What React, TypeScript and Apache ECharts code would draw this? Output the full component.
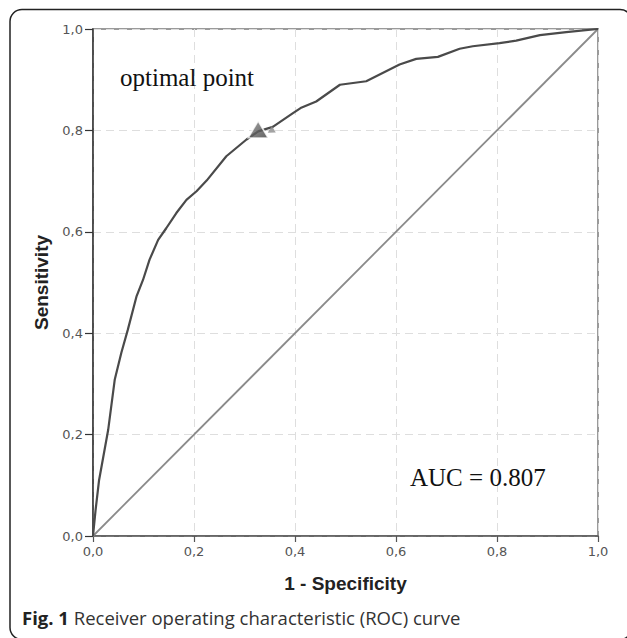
import React, { useEffect, useRef } from "react";
import * as echarts from "echarts";

const fpr = [0, 0.005, 0.012, 0.03, 0.043, 0.056, 0.069, 0.086, 0.099, 0.112, 0.129, 0.145, 0.165, 0.185, 0.205, 0.225, 0.264, 0.304, 0.327, 0.356, 0.396, 0.411, 0.442, 0.489, 0.541, 0.607, 0.64, 0.683, 0.726, 0.752, 0.805, 0.838, 0.885, 0.937, 1.0];
const tpr = [0, 0.05, 0.11, 0.209, 0.308, 0.361, 0.407, 0.472, 0.505, 0.545, 0.584, 0.607, 0.637, 0.663, 0.68, 0.701, 0.749, 0.782, 0.798, 0.807, 0.834, 0.844, 0.857, 0.89, 0.897, 0.93, 0.941, 0.945, 0.961, 0.966, 0.972, 0.977, 0.988, 0.994, 1.0];
const diagonal = [[0, 0], [1, 1]];
const optimalPoint = [0.327, 0.8];
const arrowPoint = [0.352, 0.799];
const xTitle = "1 - Specificity";
const yTitle = "Sensitivity";
const optimalLabel = "optimal point";
const aucLabel = "AUC = 0.807";
const captionBold = "Fig. 1";
const captionText = " Receiver operating characteristic (ROC) curve";

export default function App() {
  const ref = useRef<HTMLDivElement>(null);
  useEffect(() => {
    if (!ref.current) return;
    const chart = echarts.init(ref.current, null, { renderer: "svg" });
    const fmt = (v: number) => v.toFixed(1).replace(".", ",");
    const labelStyle = { formatter: fmt, color: "#555", fontSize: 13, fontFamily: "'DejaVu Sans', sans-serif" };
    const axisCommon = {
      type: "value",
      min: 0,
      max: 1,
      interval: 0.2,
      splitLine: { show: true, lineStyle: { type: [8, 5], color: "#dedede", width: 1 } },
      nameTextStyle: { fontWeight: "bold", fontSize: 19, color: "#222", fontFamily: "'Liberation Sans', Arial, sans-serif" },
    };
    chart.setOption({
      animation: false,
      backgroundColor: "#fff",
      grid: { left: 93, right: 29, top: 29, bottom: 102, show: true, borderColor: "#9a9a9a", borderWidth: 2 },
      xAxis: {
        ...axisCommon,
        name: xTitle,
        nameLocation: "middle",
        nameGap: 38,
        axisLine: { show: true, lineStyle: { color: "#555", width: 1.5 } },
        axisTick: { show: true, length: 6, lineStyle: { color: "#555", width: 1.2 } },
        axisLabel: { ...labelStyle, margin: 9 },
      },
      yAxis: {
        ...axisCommon,
        name: yTitle,
        nameLocation: "middle",
        nameGap: 42,
        axisLine: { show: true, lineStyle: { color: "#333", width: 1.5 } },
        axisTick: { show: true, length: 8, lineStyle: { color: "#333", width: 1.2 } },
        axisLabel: { ...labelStyle, margin: 10 },
      },
      series: [
        {
          type: "line",
          data: diagonal,
          symbol: "none",
          lineStyle: { color: "#8a8a8a", width: 1.8 },
          z: 2,
        },
        {
          type: "line",
          data: fpr.map((x, i) => [x, tpr[i]]),
          symbol: "none",
          lineStyle: { color: "#4a4a4a", width: 2.2 },
          z: 3,
        },
        {
          type: "scatter",
          data: [arrowPoint],
          symbol: "triangle",
          symbolSize: [8, 7],
          symbolRotate: 120,
          itemStyle: { color: "#8c8c8c" },
          z: 4,
        },
        {
          type: "scatter",
          data: [optimalPoint],
          symbol: "triangle",
          symbolSize: [20, 17],
          symbolOffset: [0, -1],
          itemStyle: {
            color: new echarts.graphic.LinearGradient(0, 0, 1, 1, [
              { offset: 0, color: "#8a8a8a" },
              { offset: 1, color: "#3c3c3c" },
            ]),
            borderColor: "#fff",
            borderWidth: 1.5,
          },
          z: 5,
        },
      ],
      graphic: [
        {
          type: "rect",
          shape: { x: 10, y: 9.5, width: 622, height: 630, r: 12 },
          style: { fill: "none", stroke: "#222", lineWidth: 1.5 },
          silent: true,
          z: 0,
        },
        {
          type: "text",
          left: 120,
          top: 65,
          style: { text: optimalLabel, font: "25px 'Liberation Serif', 'Times New Roman', serif", fill: "#111" },
          z: 10,
        },
        {
          type: "text",
          left: 410,
          top: 465,
          style: { text: aucLabel, font: "25px 'Liberation Serif', 'Times New Roman', serif", fill: "#111" },
          z: 10,
        },
        {
          type: "text",
          left: 22,
          top: 608,
          style: {
            text: "{b|" + captionBold + "}{n|" + captionText + "}",
            rich: {
              b: { fontWeight: "bold", fontSize: 18.5, fill: "#222", fontFamily: "'Open Sans', 'Noto Sans', sans-serif" },
              n: { fontSize: 18.5, fill: "#333", fontFamily: "'Open Sans', 'Noto Sans', sans-serif" },
            },
          },
          z: 10,
        },
      ],
    });
    return () => chart.dispose();
  }, []);
  return <div ref={ref} style={{ position: "fixed", left: 0, top: 0, width: 627, height: 638 }} />;
}
